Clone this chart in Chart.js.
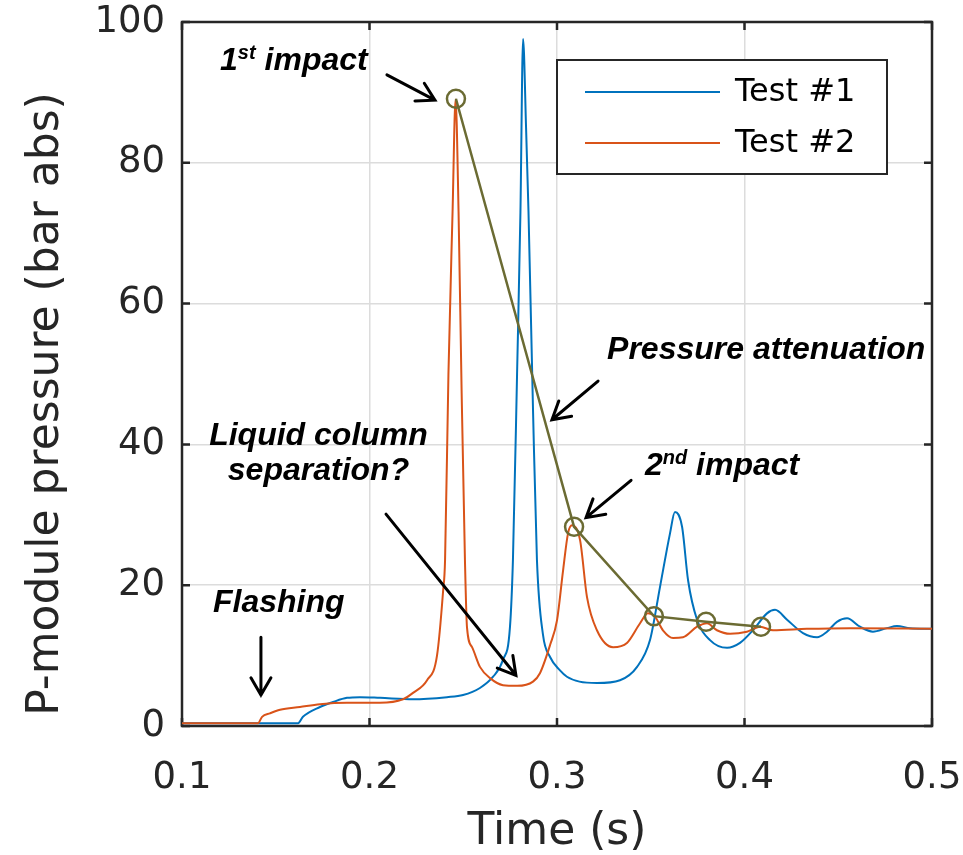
<!DOCTYPE html>
<html lang="en">
<head>
<meta charset="UTF-8">
<title>P-module pressure</title>
<script src="https://cdn.jsdelivr.net/npm/chart.js"></script>
<style>
  html, body { margin: 0; padding: 0; background: #fff; }
  #wrap { width: 963px; height: 855px; }
</style>
</head>
<body>
<div id="wrap"><canvas id="myChart" width="963" height="855"></canvas></div>
<script>
// Test #1 pressure trace (s, bar abs)
const test1Time = [0.1, 0.1619, 0.1645, 0.1736, 0.1805, 0.188, 0.1949, 0.2056, 0.2232, 0.2413,
  0.2499, 0.2589, 0.2659, 0.2712, 0.2749, 0.2765, 0.2787, 0.2805, 0.2819, 0.2835,
  0.2848, 0.2872, 0.2893, 0.2925, 0.2963, 0.3016, 0.3053, 0.312, 0.3213, 0.3336, 0.3427,
  0.3496, 0.3549, 0.3603, 0.3629, 0.3667, 0.3699, 0.3747, 0.3816, 0.3907, 0.3976,
  0.4045, 0.412, 0.4163, 0.4227, 0.4312, 0.4387, 0.444, 0.4493, 0.4547, 0.4616,
  0.4685, 0.476, 0.4813, 0.4883, 0.5];
const test1Pres = [0.4, 0.4, 1.3, 2.7, 3.4, 4.0, 4.1, 4.0, 3.8, 4.1,
  4.4, 5.4, 7.0, 9.4, 14, 23.6, 50, 73, 97.6, 85,
  73, 45, 23.6, 13, 9.8, 7.9, 7.0, 6.3, 6.1, 6.5, 8.4,
  12.2, 19.7, 27.4, 30.4, 28.3, 20.7, 15.1, 12.2, 11.1, 11.8,
  13.6, 16, 16.5, 15.1, 13.2, 12.6, 13.4, 14.8, 15.3, 14.1,
  13.4, 13.9, 14.2, 13.9, 13.8];

// Test #2 pressure trace
const test2Time = [0.1, 0.1405, 0.1427, 0.1469, 0.1523, 0.1629, 0.1736, 0.188, 0.2056, 0.2179,
  0.2232, 0.2307, 0.236, 0.2392, 0.2403, 0.2421, 0.2443, 0.2459, 0.2475, 0.2491,
  0.2509, 0.252, 0.2547, 0.2589, 0.2643, 0.2712, 0.2787, 0.2872, 0.2909, 0.2963,
  0.3, 0.3032, 0.3059, 0.308, 0.3123, 0.316, 0.3213, 0.3299, 0.3373, 0.3443,
  0.3485, 0.3523, 0.3565, 0.3619, 0.3672, 0.3747, 0.38, 0.3853, 0.3923, 0.4013,
  0.4083, 0.4152, 0.4333, 0.4563, 0.5];
const test2Pres = [0.4, 0.4, 1.3, 1.8, 2.3, 2.7, 3.1, 3.3, 3.3, 3.8,
  4.7, 6.5, 10, 19, 23.6, 50, 73, 89, 73, 48,
  23.6, 14, 11.2, 8.4, 6.8, 5.8, 5.7, 6.3, 7.5, 11.5,
  15, 22, 27.4, 28.5, 26.4, 18.3, 13.6, 11.2, 11.8, 14.6,
  16, 15.5, 13.6, 12.5, 12.6, 14.1, 14.6, 13.6, 13.1, 13.4,
  14.1, 13.6, 13.8, 13.9, 13.8];

// successive impact peaks (attenuation line)
const peakTime = [0.2461, 0.3091, 0.3517, 0.3795, 0.4088];
const peakPres = [89.1, 28.3, 15.6, 14.8, 14.1];

const xTicks = [0.1, 0.2, 0.3, 0.4, 0.5];
const yTicks = [0, 20, 40, 60, 80, 100];
const yTitle = 'P-module pressure (bar abs)';

// text notes, anchored in data units ([text, isSuperscript] parts)
const notes = [
  { parts: [['1', 0], ['st', 1], [' impact', 0]], x: 0.1203, y: 93.2, align: 'left' },
  { parts: [['Pressure attenuation', 0]], x: 0.3267, y: 52.1, align: 'left' },
  { parts: [['2', 0], ['nd', 1], [' impact', 0]], x: 0.3469, y: 35.6, align: 'left' },
  { parts: [['Liquid column', 0]], x: 0.1728, y: 39.9, align: 'center' },
  { parts: [['separation?', 0]], x: 0.1728, y: 34.9, align: 'center' },
  { parts: [['Flashing', 0]], x: 0.1165, y: 16.2, align: 'left' }
];
// arrows: [x0, y0, x1 (tip), y1 (tip)]
const arrows = [
  [0.2093, 92.5, 0.2349, 88.9],
  [0.3219, 49.0, 0.2973, 43.5],
  [0.3395, 34.9, 0.3155, 29.6],
  [0.2088, 30.1, 0.2781, 7.2],
  [0.1421, 12.6, 0.1421, 4.4]
];

const AXIS = '#262626';
const toXY = (xs, ys) => xs.map((x, i) => ({ x: x, y: ys[i] }));

const framePlugin = {
  id: 'frame',
  beforeDatasetsDraw(chart) {
    const { ctx, chartArea: a, scales } = chart;
    ctx.save();
    ctx.strokeStyle = AXIS;
    ctx.lineWidth = 2.5;
    ctx.strokeRect(a.left, a.top, a.right - a.left, a.bottom - a.top);
    const tl = 8;
    ctx.beginPath();
    xTicks.forEach(v => {
      const px = scales.x.getPixelForValue(v);
      ctx.moveTo(px, a.bottom); ctx.lineTo(px, a.bottom - tl);
      ctx.moveTo(px, a.top); ctx.lineTo(px, a.top + tl);
    });
    yTicks.forEach(v => {
      const py = scales.y.getPixelForValue(v);
      ctx.moveTo(a.left, py); ctx.lineTo(a.left + tl, py);
      ctx.moveTo(a.right, py); ctx.lineTo(a.right - tl, py);
    });
    ctx.stroke();

    // y axis title, sitting a little below the axis middle
    ctx.translate(47, (a.top + a.bottom) / 2 + 30);
    ctx.rotate(-Math.PI / 2);
    ctx.font = '44px "DejaVu Sans", sans-serif';
    ctx.fillStyle = AXIS;
    ctx.textAlign = 'center';
    ctx.textBaseline = 'middle';
    ctx.fillText(yTitle, 0, 0);
    ctx.restore();
  }
};

const notePlugin = {
  id: 'notes',
  afterDatasetsDraw(chart) {
    const { ctx, scales } = chart;
    const big = 'italic bold 32px "Liberation Sans", Arial, sans-serif';
    const small = 'italic bold 20px "Liberation Sans", Arial, sans-serif';
    ctx.save();
    ctx.fillStyle = '#000';
    ctx.textBaseline = 'alphabetic';
    ctx.textAlign = 'left';
    notes.forEach(n => {
      let w = 0;
      n.parts.forEach(p => { ctx.font = p[1] ? small : big; w += ctx.measureText(p[0]).width; });
      let px = scales.x.getPixelForValue(n.x);
      const py = scales.y.getPixelForValue(n.y);
      if (n.align === 'center') px -= w / 2;
      n.parts.forEach(p => {
        ctx.font = p[1] ? small : big;
        ctx.fillText(p[0], px, p[1] ? py - 11 : py);
        px += ctx.measureText(p[0]).width;
      });
    });
    ctx.strokeStyle = '#000';
    ctx.lineWidth = 3;
    ctx.lineCap = 'round';
    arrows.forEach(r => {
      const x0 = scales.x.getPixelForValue(r[0]), y0 = scales.y.getPixelForValue(r[1]);
      const x1 = scales.x.getPixelForValue(r[2]), y1 = scales.y.getPixelForValue(r[3]);
      const ang = Math.atan2(y1 - y0, x1 - x0);
      const hl = 20, ha = Math.PI / 6;
      ctx.beginPath();
      ctx.moveTo(x0, y0); ctx.lineTo(x1, y1);
      ctx.moveTo(x1 - hl * Math.cos(ang - ha), y1 - hl * Math.sin(ang - ha));
      ctx.lineTo(x1, y1);
      ctx.lineTo(x1 - hl * Math.cos(ang + ha), y1 - hl * Math.sin(ang + ha));
      ctx.stroke();
    });
    ctx.restore();
  }
};

const legendPlugin = {
  id: 'boxLegend',
  afterDraw(chart) {
    const { ctx, chartArea: a } = chart;
    const bx = a.right - 375, by = a.top + 38, bw = 330, bh = 114;
    ctx.save();
    ctx.fillStyle = '#fff';
    ctx.fillRect(bx, by, bw, bh);
    ctx.strokeStyle = AXIS;
    ctx.lineWidth = 2;
    ctx.strokeRect(bx, by, bw, bh);
    ctx.font = '32px "DejaVu Sans", sans-serif';
    ctx.textBaseline = 'middle';
    ctx.fillStyle = '#000';
    chart.data.datasets.slice(0, 2).forEach((ds, i) => {
      const ly = by + 32 + i * 51;
      ctx.strokeStyle = ds.borderColor;
      ctx.lineWidth = 2;
      ctx.beginPath();
      ctx.moveTo(bx + 28, ly); ctx.lineTo(bx + 163, ly);
      ctx.stroke();
      ctx.fillText(ds.label, bx + 178, ly + 1);
    });
    ctx.restore();
  }
};

new Chart(document.getElementById('myChart'), {
  type: 'line',
  data: {
    datasets: [
      {
        label: 'Test #1',
        data: toXY(test1Time, test1Pres),
        borderColor: '#0072BD',
        borderWidth: 2,
        pointRadius: 0,
        cubicInterpolationMode: 'monotone',
        order: 3
      },
      {
        label: 'Test #2',
        data: toXY(test2Time, test2Pres),
        borderColor: '#D95319',
        borderWidth: 2,
        pointRadius: 0,
        cubicInterpolationMode: 'monotone',
        order: 2
      },
      {
        label: 'Peaks',
        data: toXY(peakTime, peakPres),
        borderColor: '#6b6b33',
        borderWidth: 2.5,
        pointRadius: 9,
        pointBorderWidth: 2.5,
        pointBorderColor: '#6b6b33',
        pointBackgroundColor: 'rgba(0,0,0,0)',
        order: 1
      }
    ]
  },
  options: {
    responsive: false,
    animation: false,
    events: [],
    layout: { padding: { top: 22, right: 31, left: 0, bottom: 0 } },
    plugins: { legend: { display: false }, tooltip: { enabled: false } },
    scales: {
      x: {
        type: 'linear',
        min: 0.1,
        max: 0.5,
        afterBuildTicks: s => { s.ticks = xTicks.map(v => ({ value: v })); },
        afterFit: s => { s.height = 129; s.paddingLeft = 0; s.paddingRight = 0; },
        ticks: {
          callback: v => v.toFixed(1),
          font: { family: '"DejaVu Sans", sans-serif', size: 37 },
          color: AXIS,
          padding: 30,
          maxRotation: 0
        },
        grid: { color: '#dcdcdc', lineWidth: 1.5, drawTicks: false },
        border: { display: false },
        title: {
          display: true,
          text: 'Time (s)',
          font: { family: '"DejaVu Sans", sans-serif', size: 44, lineHeight: 1.0 },
          color: AXIS,
          padding: { top: 0, bottom: 0 }
        }
      },
      y: {
        type: 'linear',
        min: 0,
        max: 100,
        afterBuildTicks: s => { s.ticks = yTicks.map(v => ({ value: v })); },
        afterFit: s => { s.width = 182; s.paddingTop = 0; s.paddingBottom = 0; },
        ticks: {
          font: { family: '"DejaVu Sans", sans-serif', size: 37 },
          color: AXIS,
          padding: 17
        },
        grid: { color: '#dcdcdc', lineWidth: 1.5, drawTicks: false },
        border: { display: false }
      }
    }
  },
  plugins: [framePlugin, notePlugin, legendPlugin]
});
</script>
</body>
</html>
